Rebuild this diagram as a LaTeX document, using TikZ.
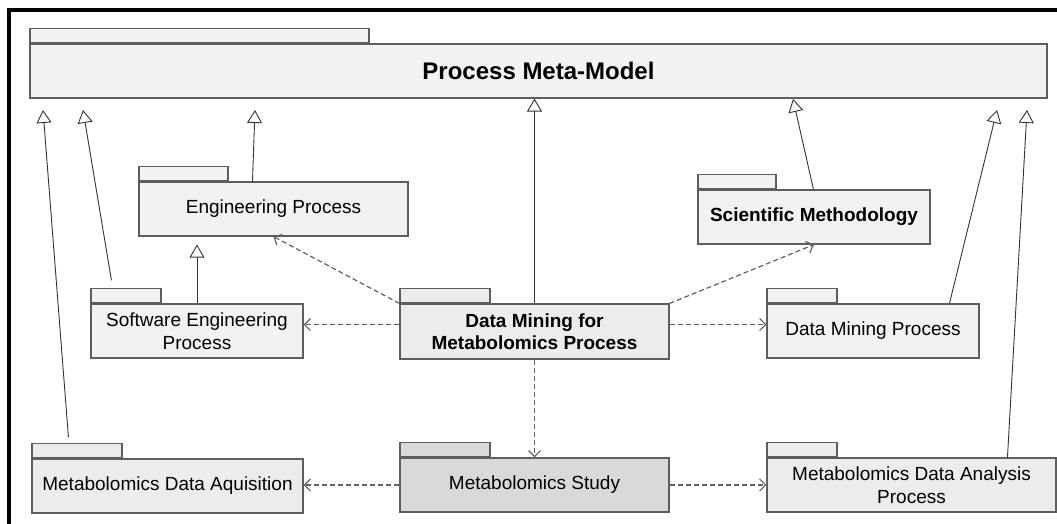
\documentclass[tikz,border=0pt]{standalone}
\usepackage{fontspec}
\setmainfont{Liberation Sans}
\usetikzlibrary{arrows.meta,calc}
\definecolor{pkgfill}{HTML}{F2F2F2}
\definecolor{pkgmid}{HTML}{ECECEC}
\definecolor{pkgdark}{HTML}{D9D9D9}
\definecolor{pkgline}{HTML}{5E5E5E}
\definecolor{inhline}{HTML}{333333}
\definecolor{depline}{HTML}{606060}
\begin{document}
\begin{tikzpicture}[x=1pt,y=-1pt,
  pkg/.style={draw=pkgline, line width=1.1pt, fill=pkgfill, align=center,
    inner sep=0pt, minimum height=54pt,
    font=\fontsize{19}{22.5}\selectfont},
  boldpkg/.style={pkg, font=\bfseries\fontsize{19}{22.5}\selectfont},
  pkgtab/.style={draw=pkgline, line width=1.1pt, fill=pkgfill, inner sep=0pt,
    minimum height=14pt, anchor=south west},
  inherit/.style={draw=inhline, line width=0.9pt,
    -{Triangle[open, length=13pt, width=15pt, fill=white]}},
  depends/.style={draw=depline, line width=1.2pt, dash pattern=on 5pt off 3pt,
    -{Straight Barb[length=6pt, width=12pt]}}]
\useasboundingbox (0,0) rectangle (1057,524);

% outer frame (top and left edges)
\draw[line width=4pt, line join=miter] (9,524) -- (9,10.5) -- (1057,10.5);

% packages
\node[pkg, minimum width=1017pt, font=\bfseries\fontsize{24}{28}\selectfont] (main) at (538.5,71) {Process Meta-Model};
\node[pkgtab, minimum width=339pt] (main-tab) at (main.north west) {};

\node[pkg, minimum width=269pt] (ep) at (273.5,209) {Engineering Process};
\node[pkgtab, minimum width=89pt] (ep-tab) at (ep.north west) {};

\node[boldpkg, minimum width=232pt] (sm) at (814,217) {Scientific Methodology};
\node[pkgtab, minimum width=78pt] (sm-tab) at (sm.north west) {};

\node[pkg, minimum width=212pt] (se) at (197,331) {Software Engineering\\Process};
\node[pkgtab, minimum width=70pt] (se-tab) at (se.north west) {};

\node[boldpkg, minimum width=269pt, minimum height=55pt, fill=pkgmid] (dmmp) at (534.5,331.5) {Data Mining for\\Metabolomics Process};
\node[pkgtab, minimum width=90pt, fill=pkgmid] (dmmp-tab) at (dmmp.north west) {};

\node[pkg, minimum width=212pt] (dmp) at (873,331) {Data Mining Process};
\node[pkgtab, minimum width=70pt] (dmp-tab) at (dmp.north west) {};

\node[pkg, minimum width=271pt, fill=pkgmid] (aq) at (167.5,486) {Metabolomics Data Aquisition};
\node[pkgtab, minimum width=90pt, fill=pkgmid] (aq-tab) at (aq.north west) {};

\node[pkg, minimum width=269pt, fill=pkgdark] (study) at (534.5,485) {Metabolomics Study};
\node[pkgtab, minimum width=90pt, fill=pkgdark] (study-tab) at (study.north west) {};

\node[pkg, minimum width=289pt, fill=pkgmid] (an) at (911.5,485) {Metabolomics Data Analysis\\Process};
\node[pkgtab, minimum width=70pt, fill=pkgmid] (an-tab) at (an.north west) {};

% generalisation targets below the meta-model
\coordinate (g-aq) at (43,110);
\coordinate (g-se) at (83,110);
\coordinate (g-ep) at (255,110);
\coordinate (g-sm) at (793,99);
\coordinate (g-dmp) at (997,110);
\coordinate (g-an) at (1027,110);

% generalisations
\draw[inherit] ([xshift=37pt,yshift=6pt]aq-tab.north west) -- (g-aq);
\draw[inherit] ([xshift=21pt,yshift=8pt]se-tab.north west) -- (g-se);
\draw[inherit] ([xshift=114pt]ep.north west) -- (g-ep);
\draw[inherit] (dmmp.north) -- (dmmp.north |- main.south);
\draw[inherit] ([xshift=116pt]sm.north west) -- (g-sm);
\draw[inherit] ([xshift=183pt]dmp.north west) -- (g-dmp);
\draw[inherit] ([xshift=241pt]an.north west) -- (g-an);
\draw[inherit, shorten >=8pt] (se.north) -- (se.north |- ep.south);

% dependencies
\draw[depends] (dmmp.north west) -- (ep.south);
\draw[depends] ([yshift=7pt]dmmp.west) -- ([yshift=7pt]dmmp.west -| se.east);
\draw[depends] (dmmp.north east) -- (sm.south);
\draw[depends] ([yshift=7pt]dmmp.east) -- ([yshift=7pt]dmmp.east -| dmp.west);
\draw[depends] (dmmp.south) -- (study.north);
\draw[depends] (study.west) -- (study.west -| aq.east);
\draw[depends] (study.east) -- (study.east -| an.west);
\end{tikzpicture}
\end{document}
